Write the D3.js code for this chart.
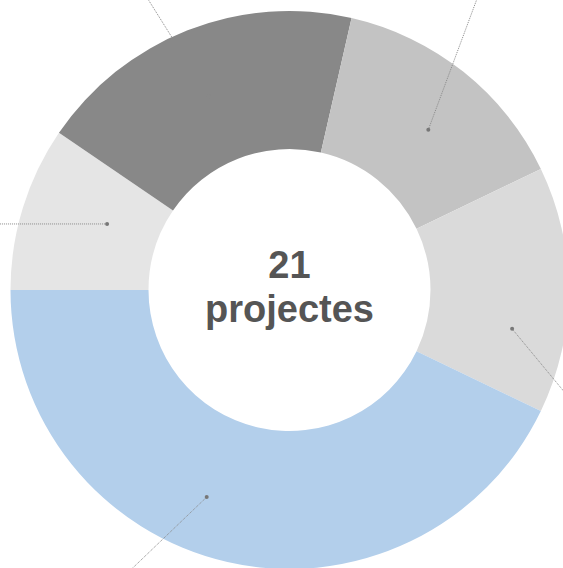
<!DOCTYPE html>
<html lang="ca">
<head>
  <meta charset="UTF-8">
  <title>21 projectes</title>
  <script src="https://d3js.org/d3.v7.min.js"></script>
  <style>
    body { margin: 0; background: #fff; }
    .leader { fill: none; stroke-width: 1px; stroke-dasharray: 1,1; }
    .total { font-family: "Helvetica Neue", Helvetica, Arial, "Liberation Sans", sans-serif; font-weight: bold; fill: #555; }
  </style>
</head>
<body>
  <svg id="donut" width="563" height="568"></svg>

  <script>
    // Project counts per group (labels fall outside the visible crop)
    const groups = ["Grup 1", "Grup 2", "Grup 3", "Grup 4", "Grup 5"];
    const projects = [2, 4, 3, 3, 9];
    const colors = ["#e5e5e5", "#888888", "#c3c3c3", "#dadada", "#b3cfeb"];
    const unitLabel = "projectes";

    // Callout dot placement (degrees clockwise from top, radius) and leader direction
    const dotAngle = [289.9, 337.4, 40.9, 99.9, 201.8];
    const dotRadius = [194, 210, 212, 226, 223];
    const leaderAngle = [270, 327.9, 20.4, 140.4, 226.2];

    const width = 563;
    const height = 568;
    const cx = 289.5, cy = 290;
    const outerR = 279, innerR = 141;

    const svg = d3.select("#donut");
    const g = svg.append("g").attr("transform", `translate(${cx},${cy})`);

    const data = groups.map((name, i) => ({ name, value: projects[i], color: colors[i] }));

    const pie = d3.pie()
      .sort(null)
      .value(d => d.value)
      .startAngle(-Math.PI / 2)
      .endAngle(Math.PI * 1.5);

    const arc = d3.arc().innerRadius(innerR).outerRadius(outerR);

    g.selectAll("path.slice")
      .data(pie(data))
      .join("path")
      .attr("class", "slice")
      .attr("fill", d => d.data.color)
      .attr("d", arc);

    // leader lines + dots
    const rad = d3.scaleLinear().domain([0, 360]).range([0, 2 * Math.PI]);
    const polar = (a, r) => [r * Math.sin(rad(a)), -r * Math.cos(rad(a))];

    const callouts = data.map((d, i) => {
      const p = polar(dotAngle[i], dotRadius[i]);
      const dir = polar(leaderAngle[i], 500);
      const ink = d.color === "#888888" ? "#888888" : "#8a8a8a";
      return { p, end: [p[0] + dir[0], p[1] + dir[1]], ink };
    });

    g.selectAll("line.leader")
      .data(callouts)
      .join("line")
      .attr("class", "leader")
      .attr("stroke", d => d.ink)
      .attr("x1", d => d.p[0]).attr("y1", d => d.p[1])
      .attr("x2", d => d.end[0]).attr("y2", d => d.end[1]);

    g.selectAll("circle.dot")
      .data(callouts)
      .join("circle")
      .attr("class", "dot")
      .attr("r", 2)
      .attr("fill", d => d.ink === "#888888" ? "#888888" : "#777")
      .attr("cx", d => d.p[0]).attr("cy", d => d.p[1]);

    // centre total
    const total = d3.sum(projects);
    const label = g.append("text").attr("class", "total").attr("text-anchor", "middle").attr("font-size", 38);
    label.append("tspan").attr("x", 0).attr("y", -12).text(total);
    label.append("tspan").attr("x", 0).attr("y", 32).text(unitLabel);
  </script>
</body>
</html>
